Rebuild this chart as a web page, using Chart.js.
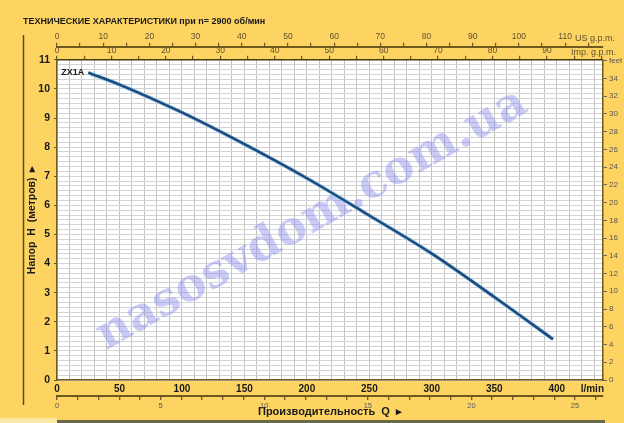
<!DOCTYPE html>
<html>
<head>
<meta charset="utf-8">
<script src="https://cdn.jsdelivr.net/npm/chart.js@4.4.1/dist/chart.umd.min.js"></script>
<style>
html, body { margin: 0; padding: 0; background: #FDD462; }
#wrap { position: relative; width: 624px; height: 423px; }
</style>
</head>
<body>
<div id="wrap"><canvas id="pumpChart" width="624" height="423"></canvas></div>
<script>
// --- данные кривой ---
const curveName = 'ZX1A';
const flowLpm = [25, 50, 100, 150, 200, 250, 300, 350, 397];
const headM = [10.56, 10.15, 9.19, 8.10, 6.93, 5.65, 4.34, 2.85, 1.40];

// --- подписи осей ---
const lpmLabels = [0, 50, 100, 150, 200, 250, 300, 350, 400];
const m3hLabels = [0, 5, 10, 15, 20, 25];
const usLabels = [0, 10, 20, 30, 40, 50, 60, 70, 80, 90, 100, 110];
const impLabels = [0, 10, 20, 30, 40, 50, 60, 70, 80, 90];
const headLabels = [0, 1, 2, 3, 4, 5, 6, 7, 8, 9, 10, 11];
const feetLabels = [0, 2, 4, 6, 8, 10, 12, 14, 16, 18, 20, 22, 24, 26, 28, 30, 32, 34];

// диапазоны шкал (по картинке)
const LPM_MAX = 437;
const M3H_MAX = 26.35;
const US_MAX = 118.2;
const IMP_MAX = 100.3;
const H_MAX = 11;
const FT_MAX = 36.09;
const H_GRID_PER_M = 6;

const AXIS = '#6e5a1e';
const SANS = '"Liberation Sans", Arial, sans-serif';

const pick = list => v => list.includes(v) ? String(v) : '';

// --- фон, рамка, водяной знак, подписи единиц ---
const decor = {
    id: 'decor',
    beforeDraw(chart) {
        const { ctx, chartArea: a } = chart;
        ctx.save();
        ctx.fillStyle = '#FDD462';
        ctx.fillRect(0, 0, chart.width, chart.height);
        ctx.fillStyle = '#ffffff';
        ctx.fillRect(a.left, a.top, a.right - a.left, a.bottom - a.top);
        ctx.strokeStyle = '#5b4b1a';
        ctx.lineWidth = 1.5;
        ctx.beginPath();
        ctx.moveTo(23.5, 35);
        ctx.lineTo(23.5, 405);
        ctx.stroke();
        ctx.fillStyle = '#fce9a6';
        ctx.fillRect(0, 418, a.left, 5);
        ctx.fillStyle = '#6a6848';
        ctx.fillRect(a.left, 420, a.right - a.left + 2, 3);
        ctx.restore();
    },
    beforeDatasetsDraw(chart) {
        const ctx = chart.ctx;
        ctx.save();
        ctx.translate(312, 220);
        ctx.rotate(-0.515);
        ctx.font = 'bold 46px "DejaVu Serif", serif';
        ctx.fillStyle = 'rgba(140, 140, 238, 0.45)';
        ctx.textAlign = 'center';
        ctx.textBaseline = 'middle';
        ctx.fillText('nasosvdom.com.ua', 0, 0);
        ctx.restore();
    },
    afterDraw(chart) {
        const ctx = chart.ctx;
        const xs = chart.scales.x, ys = chart.scales.y;
        ctx.save();
        ctx.textBaseline = 'middle';
        ctx.fillStyle = '#5e5030';
        ctx.textAlign = 'left';
        ctx.font = '9px ' + SANS;
        ctx.fillText('US g.p.m.', 575, 39);
        ctx.fillText('Imp. g.p.m.', 571, 53);
        ctx.fillStyle = '#1a1a1a';
        ctx.textAlign = 'right';
        ctx.font = 'bold 10px ' + SANS;
        ctx.fillText('l/min', 604, 389);
        ctx.font = 'bold 9px ' + SANS;
        ctx.fillText(curveName, xs.getPixelForValue(flowLpm[0]) - 4, ys.getPixelForValue(headM[0]));
        ctx.restore();
    }
};

const curvePoints = flowLpm.map((q, i) => ({ x: q, y: headM[i] }));

new Chart(document.getElementById('pumpChart'), {
    type: 'line',
    data: {
        datasets: [{
            label: curveName,
            data: curvePoints,
            borderColor: '#1e4b7c',
            borderWidth: 2.5,
            pointRadius: 0,
            cubicInterpolationMode: 'monotone',
            xAxisID: 'x',
            yAxisID: 'y'
        }, {
            label: curveName + ' halo',
            data: curvePoints,
            borderColor: '#9ccbec',
            borderWidth: 4,
            pointRadius: 0,
            cubicInterpolationMode: 'monotone',
            xAxisID: 'x',
            yAxisID: 'y'
        }]
    },
    options: {
        responsive: false,
        animation: false,
        devicePixelRatio: 1,
        layout: { padding: { left: 23, right: 0, top: 0, bottom: 4 } },
        plugins: {
            legend: { display: false },
            tooltip: { enabled: false },
            title: {
                display: true,
                text: 'ТЕХНИЧЕСКИЕ ХАРАКТЕРИСТИКИ при n= 2900 об/мин',
                align: 'start',
                color: '#1a1a1a',
                font: { family: SANS, size: 9, weight: 'bold' },
                padding: { top: 16, bottom: 6 }
            }
        },
        scales: {
            x: {
                type: 'linear', position: 'bottom', weight: 0,
                min: 0, max: LPM_MAX,
                ticks: {
                    stepSize: 10, autoSkip: false, maxRotation: 0, includeBounds: false,
                    padding: 3, color: '#1a1a1a',
                    font: { family: SANS, size: 10, weight: 'bold' },
                    callback: pick(lpmLabels)
                },
                grid: { color: '#c2c2c2', lineWidth: 1, drawTicks: false },
                border: { color: AXIS, width: 1.5 },
                afterFit: s => { s.height = 16; }
            },
            xM3h: {
                type: 'linear', position: 'bottom', weight: 1,
                min: 0, max: M3H_MAX,
                ticks: {
                    stepSize: 1, autoSkip: false, maxRotation: 0, includeBounds: false,
                    padding: 1, color: '#555',
                    font: { family: SANS, size: 7.5 },
                    callback: pick(m3hLabels)
                },
                grid: { drawOnChartArea: false, tickLength: 4, color: AXIS, lineWidth: 1.3 },
                border: { color: AXIS, width: 2 },
                title: {
                    display: true,
                    text: 'Производительность  Q  ▸',
                    color: '#1a1a1a',
                    font: { family: SANS, size: 11, weight: 'bold' },
                    padding: { top: 0, bottom: 0 }
                },
                afterFit: s => { s.height = 23; }
            },
            xImp: {
                type: 'linear', position: 'top', weight: 0,
                min: 0, max: IMP_MAX,
                ticks: {
                    stepSize: 5, autoSkip: false, maxRotation: 0, includeBounds: false,
                    padding: 0, color: '#5e5030',
                    font: { family: SANS, size: 8.5 },
                    callback: pick(impLabels)
                },
                grid: { drawOnChartArea: false, tickLength: 4, color: AXIS, lineWidth: 1.2 },
                border: { color: '#4a3c10', width: 1.5 },
                afterFit: s => { s.height = 13; }
            },
            xUS: {
                type: 'linear', position: 'top', weight: 1,
                min: 0, max: US_MAX,
                ticks: {
                    stepSize: 5, autoSkip: false, maxRotation: 0, includeBounds: false,
                    padding: 1, color: '#5e5030',
                    font: { family: SANS, size: 8.5 },
                    callback: pick(usLabels)
                },
                grid: { drawOnChartArea: false, tickLength: 4, color: AXIS, lineWidth: 1.2 },
                border: { color: AXIS, width: 2 },
                afterFit: s => { s.height = 14; }
            },
            y: {
                type: 'linear', position: 'left', weight: 0,
                min: 0, max: H_MAX,
                ticks: {
                    stepSize: 1, autoSkip: false, padding: 4, color: '#1a1a1a',
                    font: { family: SANS, size: 10.5, weight: 'bold' },
                    callback: pick(headLabels)
                },
                grid: { drawOnChartArea: false, tickLength: 3, color: AXIS },
                border: { color: AXIS, width: 1.5 },
                title: {
                    display: true,
                    text: 'Напор  H  (метров)  ▸',
                    color: '#1a1a1a',
                    font: { family: SANS, size: 10.5, weight: 'bold' },
                    padding: { top: 3, bottom: 0 }
                },
                afterFit: s => { s.width = 34; }
            },
            yGrid: {
                type: 'linear', position: 'left', weight: -1,
                min: 0, max: H_MAX * H_GRID_PER_M,
                ticks: { display: false, stepSize: 1 },
                grid: { color: '#d4d4d4', lineWidth: 1, drawTicks: false },
                border: { display: false },
                afterFit: s => { s.width = 0; }
            },
            yFt: {
                type: 'linear', position: 'right', weight: 0,
                min: 0, max: FT_MAX,
                ticks: {
                    stepSize: 2, autoSkip: false, includeBounds: false, padding: 2, color: '#555',
                    font: { family: SANS, size: 8 },
                    callback: v => v === 36 ? 'feet' : pick(feetLabels)(v)
                },
                grid: { drawOnChartArea: false, tickLength: 4, color: '#666' },
                border: { color: AXIS, width: 1.5 },
                afterFit: s => { s.width = 21; }
            }
        }
    },
    plugins: [decor]
});
</script>
</body>
</html>
